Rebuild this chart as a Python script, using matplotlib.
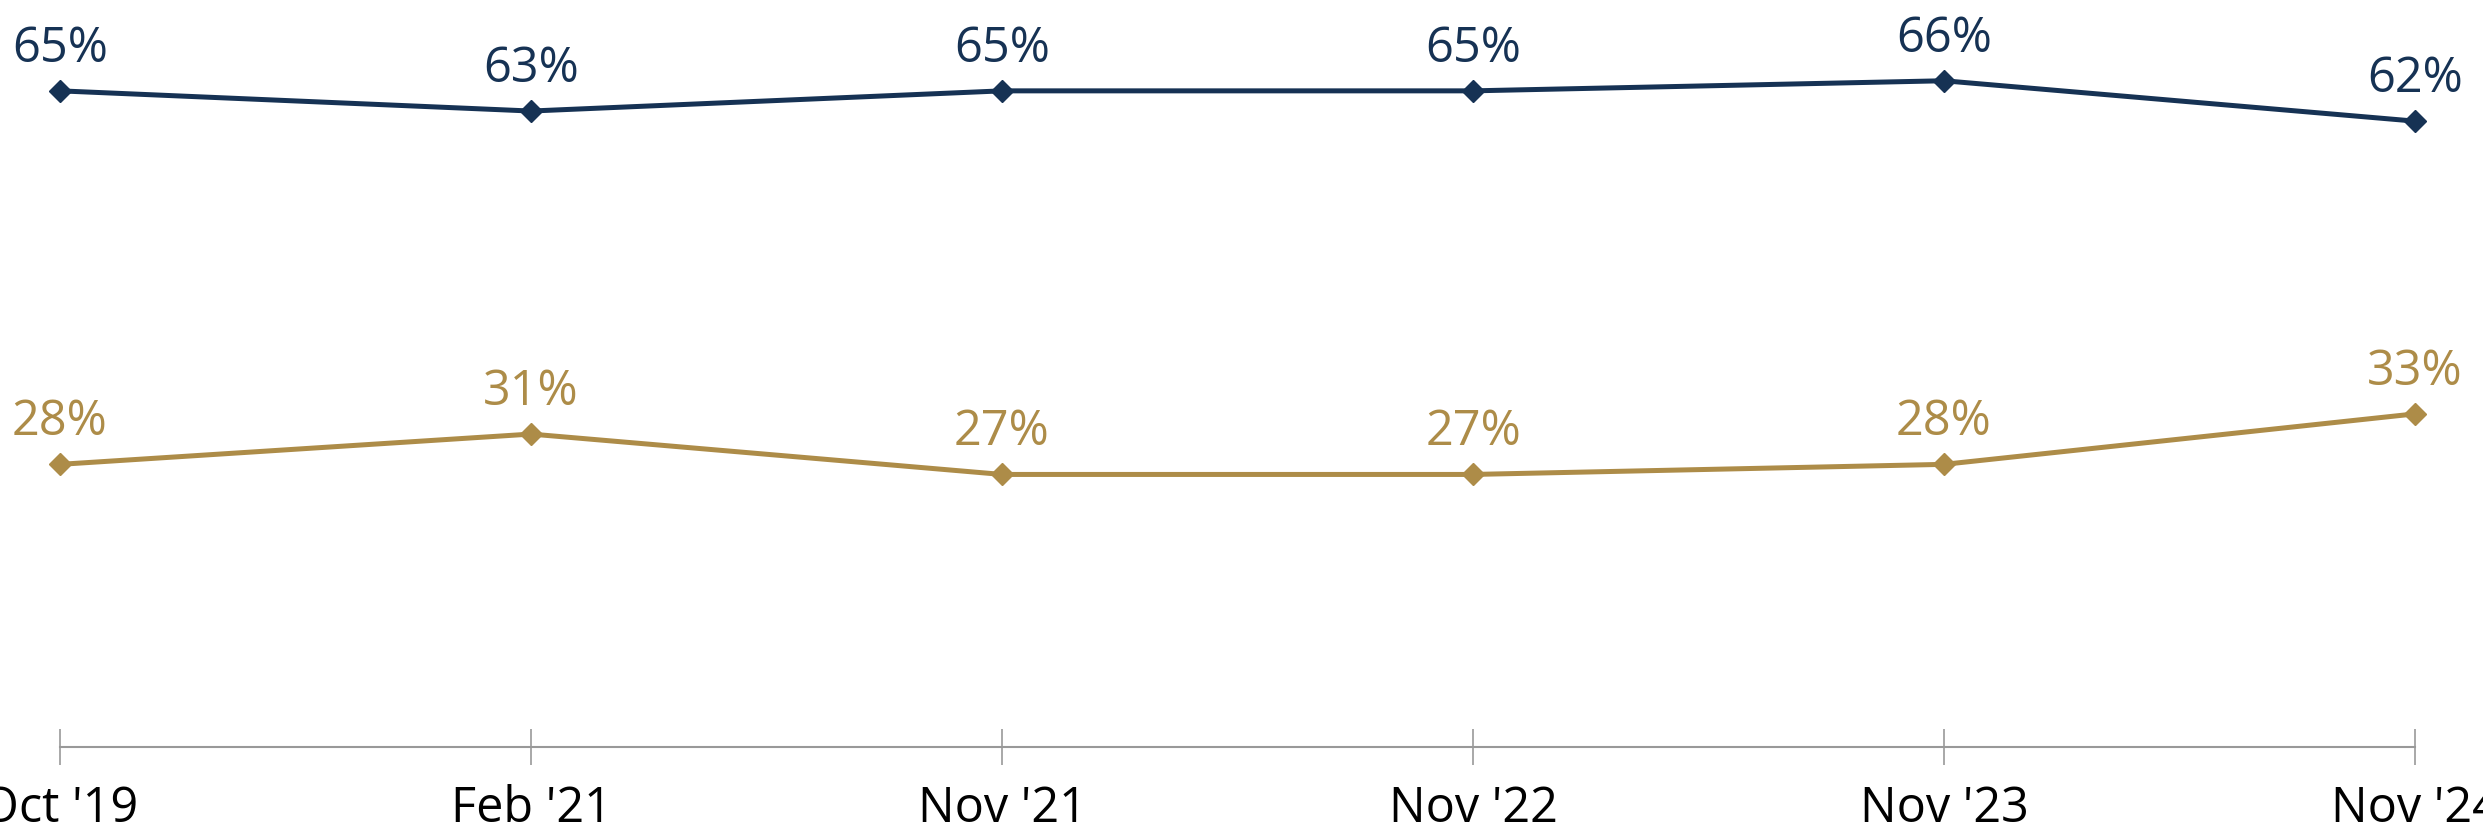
import matplotlib.pyplot as plt

periods = ["Oct '19", "Feb '21", "Nov '21", "Nov '22", "Nov '23", "Nov '24"]
top_series = [65, 63, 65, 65, 66, 62]
bottom_series = [28, 31, 27, 27, 28, 33]

navy = '#163254'
gold = '#AD8C48'

plt.rcParams['font.family'] = ['Open Sans', 'DejaVu Sans']

fig = plt.figure(figsize=(24.83, 8.36), dpi=100)
ax = fig.add_axes([60 / 2483, (836 - 747) / 836, (2415 - 60) / 2483, 747 / 836])

x = list(range(len(periods)))
for vals, col in [(top_series, navy), (bottom_series, gold)]:
    ax.plot(x, vals, color=col, lw=3.6, marker='D', ms=11, clip_on=False)
    for xi, v in zip(x, vals):                                   # value labels above points
        ax.annotate(f'{v}%', (xi, v), xytext=(0, 21), textcoords='offset points',
                    ha='center', va='baseline', fontsize=35, color=col,
                    annotation_clip=False)

ax.set_xlim(0, len(periods) - 1)
ax.set_ylim(0, 74)
ax.set_xticks(x)
ax.set_xticklabels(periods, fontsize=35)
ax.tick_params(axis='x', direction='inout', length=26, width=1.2, color='#999999', pad=14)
ax.set_yticks([])
for side in ['top', 'right', 'left']:
    ax.spines[side].set_visible(False)
ax.spines['bottom'].set_color('#999999')
ax.spines['bottom'].set_linewidth(1.5)

fig.savefig('out.png', dpi=100)
